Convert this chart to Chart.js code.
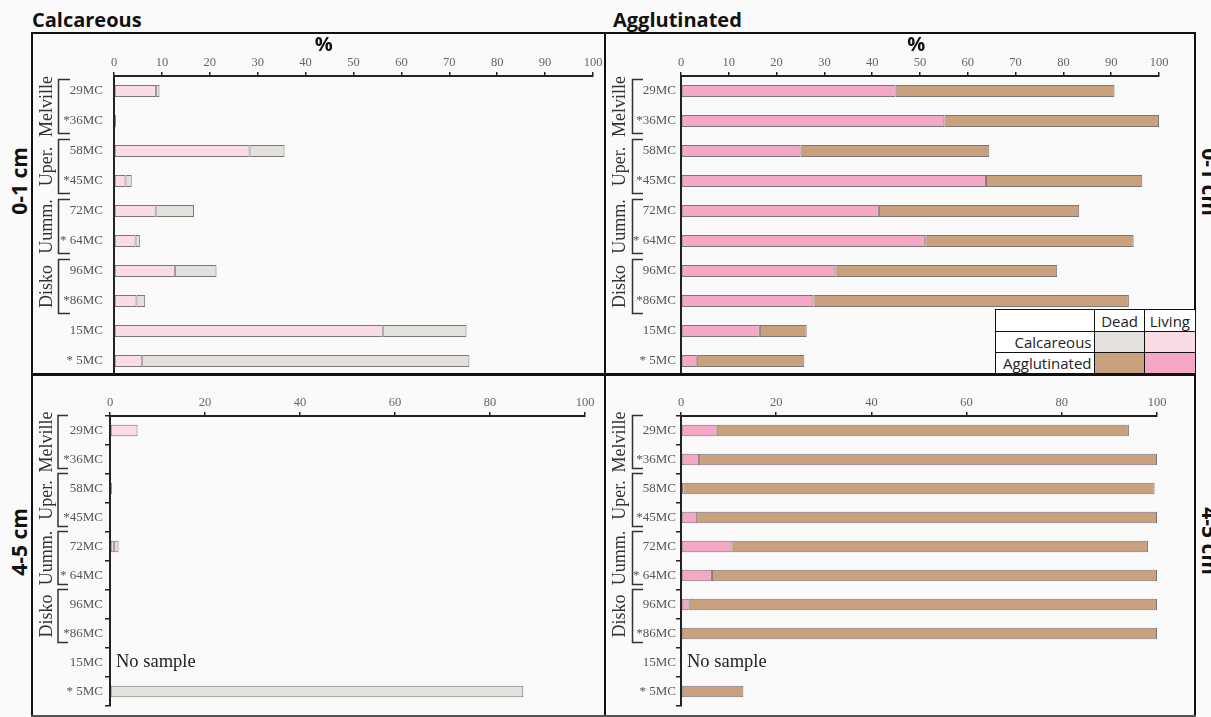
<!DOCTYPE html>
<html>
<head>
<meta charset="utf-8">
<title>Living and dead foraminifera, 0-1 cm and 4-5 cm</title>
<script src="https://cdn.jsdelivr.net/npm/chart.js@4.4.1/dist/chart.umd.min.js"></script>
<style>
  html, body { margin: 0; padding: 0; background: #fafafa; }
  #page { position: relative; width: 1211px; height: 717px; overflow: hidden; background: #fafafa; font-family: "Open Sans", sans-serif; }
  canvas { position: absolute; }
  .title { position: absolute; font-weight: 700; font-size: 20px; line-height: 20px; color: #111; white-space: nowrap; }
  .depth { position: absolute; font-weight: 700; font-size: 21px; line-height: 21px; color: #111; white-space: nowrap; }
  .line { position: absolute; background: #111; z-index: 5; }
  #legend { position: absolute; left: 995px; top: 309px; width: 201px; border-collapse: collapse; background: #fff; font-size: 15px; color: #222; table-layout: fixed; z-index: 6; }
  #legend td { border: 1.5px solid #111; padding: 0; height: 20px; line-height: 20px; white-space: nowrap; }
  #legend td.name { text-align: right; padding-right: 3px; }
  #legend td.head { text-align: center; padding-top: 1px; }
</style>
</head>
<body>
<div id="page">
  <div class="title" style="left:32px; top:10px;">Calcareous</div>
  <div class="title" style="left:613px; top:10px;">Agglutinated</div>

  <div class="depth" style="left:19px; top:181px; transform: translate(-50%, -50%) rotate(-90deg);">0-1 cm</div>
  <div class="depth" style="left:19px; top:542px; transform: translate(-50%, -50%) rotate(-90deg);">4-5 cm</div>
  <div class="depth" style="left:1209px; top:182px; transform: translate(-50%, -50%) rotate(90deg);">0-1 cm</div>
  <div class="depth" style="left:1209px; top:541px; transform: translate(-50%, -50%) rotate(90deg);">4-5 cm</div>

  <canvas id="calc01" width="573" height="343" style="left:32px; top:33px; width:573px; height:343px;"></canvas>
  <canvas id="aggl01" width="591" height="343" style="left:605px; top:33px; width:591px; height:343px;"></canvas>
  <canvas id="calc45" width="573" height="342" style="left:32px; top:375px; width:573px; height:342px;"></canvas>
  <canvas id="aggl45" width="591" height="342" style="left:605px; top:375px; width:591px; height:342px;"></canvas>

  <!-- panel frame -->
  <div class="line" style="left:31px; top:32px; width:1165px; height:2px;"></div>
  <div class="line" style="left:31px; top:32px; width:2px; height:685px;"></div>
  <div class="line" style="left:604px; top:32px; width:2px; height:685px;"></div>
  <div class="line" style="left:1194px; top:32px; width:2px; height:685px;"></div>
  <div class="line" style="left:31px; top:373px; width:1165px; height:3px;"></div>
  <div class="line" style="left:31px; top:715px; width:1165px; height:1.5px; background:#555;"></div>

  <table id="legend">
    <colgroup><col style="width:99px"><col style="width:49px"><col style="width:51px"></colgroup>
    <tr><td></td><td class="head">Dead</td><td class="head">Living</td></tr>
    <tr><td class="name">Calcareous</td><td style="background:#e3e1dd"></td><td style="background:#fadce7"></td></tr>
    <tr><td class="name">Agglutinated</td><td style="background:#c9a17f"></td><td style="background:#f5a8c5"></td></tr>
  </table>
</div>

<script>
// Sample cores (top to bottom) and the regions they belong to
const samples = ["29MC", "*36MC", "58MC", "*45MC", "72MC", "* 64MC", "96MC", "*86MC", "15MC", "* 5MC"];
const regionNames = ["Melville", "Uper.", "Uumm.", "Disko"];
const regionFirst = [0, 2, 4, 6];
const regionLast = [1, 3, 5, 7];
const noSampleDeep = "15MC";

// Axis tick values (%)
const ticksSurface = [0, 10, 20, 30, 40, 50, 60, 70, 80, 90, 100];
const ticksDeep = [0, 20, 40, 60, 80, 100];

// 0-1 cm, percentages
const calcLiving01 = [8.8, 0, 28.3, 2.4, 8.7, 4.5, 12.7, 4.7, 56.1, 5.9];
const calcDead01   = [0.7, 0.4, 7.3, 1.3, 8.0, 0.9, 8.7, 1.8, 17.5, 68.3];
const agglLiving01 = [44.9, 55.1, 25.0, 63.8, 41.4, 51.1, 32.3, 27.7, 16.5, 3.3];
const agglDead01   = [45.8, 44.9, 39.5, 32.7, 41.9, 43.6, 46.4, 66.0, 9.8, 22.5];

// 4-5 cm, percentages (15MC not sampled)
const calcLiving45 = [5.8, 0, 0, 0, 0.8, 0, 0, 0, null, 0];
const calcDead45   = [0, 0, 0.4, 0, 1.0, 0, 0, 0, null, 87.0];
const agglLiving45 = [7.5, 3.8, 0.5, 3.4, 10.6, 6.5, 1.6, 0, null, 0];
const agglDead45   = [86.6, 96.2, 99.0, 96.6, 87.5, 93.5, 98.4, 100, null, 13.1];

const colors = {
  calcDead: "#e3e1dd", calcLiving: "#fadce7",
  agglDead: "#c9a17f", agglLiving: "#f5a8c5"
};

// Brackets, region names, "%" and "No sample" notes
const decorPlugin = {
  id: "decor",
  afterDraw(chart, args, o) {
    const { ctx, chartArea, scales: { x, y } } = chart;
    const step = y.getPixelForValue(1) - y.getPixelForValue(0);
    ctx.save();
    ctx.strokeStyle = "#333";
    ctx.lineWidth = 1.5;
    regionNames.forEach((name, i) => {
      const top = Math.round(y.getPixelForValue(regionFirst[i]) - o.up * step) + 0.5;
      const bot = Math.round(y.getPixelForValue(regionLast[i]) + o.down * step) + 0.5;
      ctx.beginPath();
      ctx.moveTo(o.armX, top);
      ctx.lineTo(o.bracketX, top);
      ctx.lineTo(o.bracketX, bot);
      ctx.lineTo(o.armX, bot);
      ctx.stroke();
      ctx.save();
      ctx.translate(o.groupX, (top + bot) / 2);
      ctx.rotate(-Math.PI / 2);
      ctx.fillStyle = "#333";
      ctx.font = '18px "Liberation Serif"';
      ctx.textAlign = "center";
      ctx.textBaseline = "alphabetic";
      ctx.fillText(name, 0, 0);
      ctx.restore();
    });
    if (o.pctAt !== undefined) {
      ctx.fillStyle = "#111";
      ctx.font = '700 20px "Open Sans"';
      ctx.textAlign = "center";
      ctx.textBaseline = "middle";
      ctx.fillText("%", x.getPixelForValue(o.pctAt), 12);
    }
    if (o.noSample) {
      ctx.fillStyle = "#222";
      ctx.font = '18.5px "Liberation Serif"';
      ctx.textAlign = "left";
      ctx.textBaseline = "middle";
      ctx.fillText("No sample", chartArea.left + 6, y.getPixelForValue(samples.indexOf(noSampleDeep)));
    }
    ctx.restore();
  }
};

function buildPanel(p) {
  const barStyle = {
    borderColor: "#7c7676", borderWidth: 1, borderSkipped: false,
    barPercentage: 0.4, categoryPercentage: 1
  };
  return new Chart(document.getElementById(p.id), {
    type: "bar",
    data: {
      labels: samples,
      datasets: [
        Object.assign({ label: "Living", data: p.living, backgroundColor: p.livingColor }, barStyle),
        Object.assign({ label: "Dead", data: p.dead, backgroundColor: p.deadColor }, barStyle)
      ]
    },
    options: {
      indexAxis: "y",
      responsive: false,
      animation: false,
      devicePixelRatio: 1,
      layout: { padding: { left: 0, right: p.padRight, top: 0, bottom: p.padBottom } },
      plugins: {
        legend: { display: false },
        tooltip: { enabled: false },
        decor: p.decor
      },
      scales: {
        x: {
          position: "top",
          stacked: true,
          min: 0, max: 100,
          afterBuildTicks: s => { s.ticks = p.ticks.map(v => ({ value: v })); },
          afterFit: s => { s.height = p.axisTop; s.paddingLeft = 0; s.paddingRight = 0; },
          grid: { drawOnChartArea: false, tickLength: 4, color: "#222", lineWidth: 1.5 },
          border: { color: "#222", width: 2 },
          ticks: { font: { family: "Liberation Serif", size: 12.5 }, color: "#666", padding: 2, maxRotation: 0, autoSkip: false }
        },
        y: {
          stacked: true,
          afterFit: s => { s.width = p.axisLeft; s.paddingTop = 0; s.paddingBottom = 0; },
          grid: { display: p.yTicks, drawOnChartArea: false, tickLength: 5, color: "#222", lineWidth: 1.5 },
          border: { color: "#222", width: 2 },
          ticks: { font: { family: "Liberation Serif", size: 13 }, color: "#555", padding: p.labelPad, autoSkip: false }
        }
      }
    },
    plugins: [decorPlugin]
  });
}

buildPanel({
  id: "calc01", living: calcLiving01, dead: calcDead01,
  livingColor: colors.calcLiving, deadColor: colors.calcDead, ticks: ticksSurface,
  axisLeft: 82, axisTop: 43, padRight: 12, padBottom: 0, labelPad: 6, yTicks: false,
  decor: { bracketX: 26.5, armX: 38, groupX: 20, up: 0.4, down: 0.4, pctAt: 43.8 }
});
buildPanel({
  id: "aggl01", living: agglLiving01, dead: agglDead01,
  livingColor: colors.agglLiving, deadColor: colors.agglDead, ticks: ticksSurface,
  axisLeft: 76, axisTop: 43, padRight: 37, padBottom: 0, labelPad: 0, yTicks: false,
  decor: { bracketX: 27.5, armX: 38, groupX: 20, up: 0.4, down: 0.4, pctAt: 49.2 }
});
buildPanel({
  id: "calc45", living: calcLiving45, dead: calcDead45,
  livingColor: colors.calcLiving, deadColor: colors.calcDead, ticks: ticksDeep,
  axisLeft: 78, axisTop: 41, padRight: 20, padBottom: 11, labelPad: 2, yTicks: true,
  decor: { bracketX: 26, armX: 36, groupX: 20, up: 0.55, down: 0.3, noSample: true }
});
buildPanel({
  id: "aggl45", living: agglLiving45, dead: agglDead45,
  livingColor: colors.agglLiving, deadColor: colors.agglDead, ticks: ticksDeep,
  axisLeft: 76, axisTop: 41, padRight: 39, padBottom: 11, labelPad: 0, yTicks: true,
  decor: { bracketX: 27.5, armX: 38, groupX: 20, up: 0.55, down: 0.3, noSample: true }
});
</script>
</body>
</html>
